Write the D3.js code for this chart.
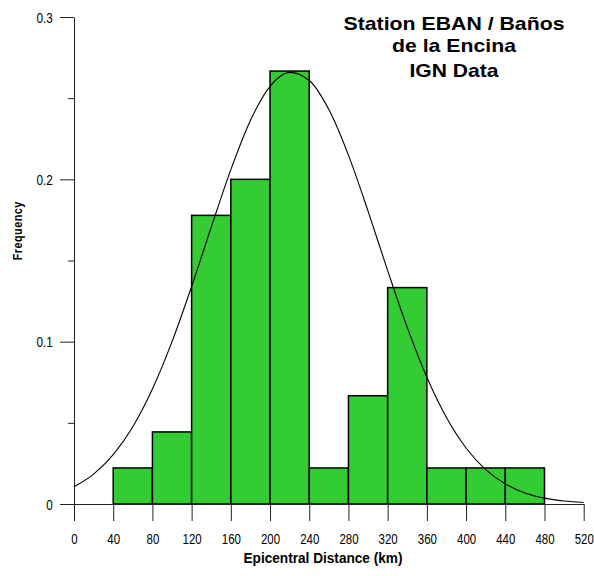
<!DOCTYPE html>
<html>
<head>
<meta charset="utf-8">
<script src="https://cdn.jsdelivr.net/npm/d3@7/dist/d3.min.js"></script>
<style>
  html, body { margin: 0; padding: 0; background: #fff; }
  svg { display: block; }
  text { font-family: "Liberation Sans", Arial, sans-serif; fill: #000; }
</style>
</head>
<body>
<svg id="chart" width="594" height="576"></svg>
<script>
// ---- data ----
const binStarts = [40, 80, 120, 160, 200, 240, 280, 320, 360, 400, 440];
const binWidth = 40;
const frequencies = [0.0222, 0.0444, 0.1778, 0.2, 0.2667, 0.0222, 0.0667, 0.1333, 0.0222, 0.0222, 0.0222];
const xTicks = [0, 40, 80, 120, 160, 200, 240, 280, 320, 360, 400, 440, 480, 520];
const yMajorTicks = [0, 0.1, 0.2, 0.3];
const yMinorTicks = [0.05, 0.15, 0.25];
// fitted normal curve, every 20 km
const curveX = [0, 20, 40, 60, 80, 100, 120, 140, 160, 180, 200, 220, 240, 260, 280, 300, 320, 340, 360, 380, 400, 420, 440, 460, 480, 500, 520];
const curveY = [0.0106, 0.0184, 0.0304, 0.0476, 0.0708, 0.1000, 0.1340, 0.1705, 0.2060, 0.2363, 0.2573, 0.2659, 0.2609, 0.2430, 0.2149, 0.1804, 0.1438, 0.1087, 0.0781, 0.0533, 0.0345, 0.0212, 0.0124, 0.0068, 0.0036, 0.0018, 0.0009];
const titleLines = ["Station EBAN / Baños", "de la Encina", "IGN Data"];
const xLabel = "Epicentral Distance (km)";
const yLabel = "Frequency";

// ---- layout ----
const svg = d3.select("#chart");
const x = d3.scaleLinear().domain([0, 520]).range([74, 583.7]);
const y = d3.scaleLinear().domain([0, 0.3]).range([504, 17]);

// bars
svg.append("g").selectAll("rect")
  .data(binStarts.map((s, i) => ({ s, f: frequencies[i] })))
  .join("rect")
  .attr("x", d => x(d.s))
  .attr("y", d => y(d.f))
  .attr("width", d => x(d.s + binWidth) - x(d.s))
  .attr("height", d => y(0) - y(d.f))
  .attr("fill", "#33cc33")
  .attr("stroke", "#000")
  .attr("stroke-width", 1.5);

// x axis
const xAxis = svg.append("g")
  .attr("transform", `translate(0,${y(0)})`)
  .call(d3.axisBottom(x).tickValues(xTicks).tickFormat(d3.format("d")).tickSize(17).tickPadding(13).tickSizeOuter(0));
xAxis.select(".domain").attr("stroke", "#222");
xAxis.selectAll(".tick line").attr("stroke", "#222");
xAxis.selectAll(".tick text")
  .attr("font-size", 14).attr("font-family", "Liberation Sans, Arial, sans-serif")
  .attr("transform", "scale(0.82,1)").attr("fill", "#000");

// y axis
const yAxis = svg.append("g")
  .attr("transform", `translate(${x(0)},0)`)
  .call(d3.axisLeft(y).tickValues(yMajorTicks).tickFormat(d => d === 0 ? "0" : d3.format(".1f")(d)).tickSize(14).tickPadding(7).tickSizeOuter(0));
yAxis.select(".domain").attr("stroke", "#222");
yAxis.selectAll(".tick line").attr("stroke", "#222");
yAxis.selectAll(".tick text")
  .attr("font-size", 14).attr("font-family", "Liberation Sans, Arial, sans-serif")
  .attr("x", -21.3 / 0.84).attr("dy", "0.36em")
  .attr("transform", "scale(0.84,1)").attr("fill", "#000");
// minor ticks
svg.append("g")
  .attr("transform", `translate(${x(0)},0)`)
  .call(d3.axisLeft(y).tickValues(yMinorTicks).tickFormat("").tickSize(6).tickSizeOuter(0))
  .call(g => g.select(".domain").remove())
  .selectAll(".tick line").attr("stroke", "#222");

// curve
const line = d3.line()
  .x((d, i) => x(curveX[i]))
  .y(d => y(d))
  .curve(d3.curveMonotoneX);
svg.append("path")
  .datum(curveY)
  .attr("d", line)
  .attr("fill", "none")
  .attr("stroke", "#000")
  .attr("stroke-width", 1.1);

// title
const titleBaselines = [30, 51.5, 76.5];
const titleLengths = [221, 124, 89];
svg.append("g").selectAll("text")
  .data(titleLines)
  .join("text")
  .attr("x", 454)
  .attr("y", (d, i) => titleBaselines[i])
  .attr("text-anchor", "middle")
  .attr("font-size", 18.5)
  .attr("font-weight", "bold")
  .attr("textLength", (d, i) => titleLengths[i])
  .attr("lengthAdjust", "spacingAndGlyphs")
  .text(d => d);

// axis labels
svg.append("text")
  .attr("x", 323).attr("y", 563)
  .attr("text-anchor", "middle")
  .attr("font-size", 14).attr("font-weight", "bold")
  .attr("textLength", 159).attr("lengthAdjust", "spacingAndGlyphs")
  .text(xLabel);

svg.append("text")
  .attr("transform", "translate(22,231) rotate(-90) scale(0.8,1)")
  .attr("text-anchor", "middle")
  .attr("font-size", 13.5).attr("font-weight", "bold")
  .attr("textLength", 73).attr("lengthAdjust", "spacing")
  .text(yLabel);
</script>
</body>
</html>
